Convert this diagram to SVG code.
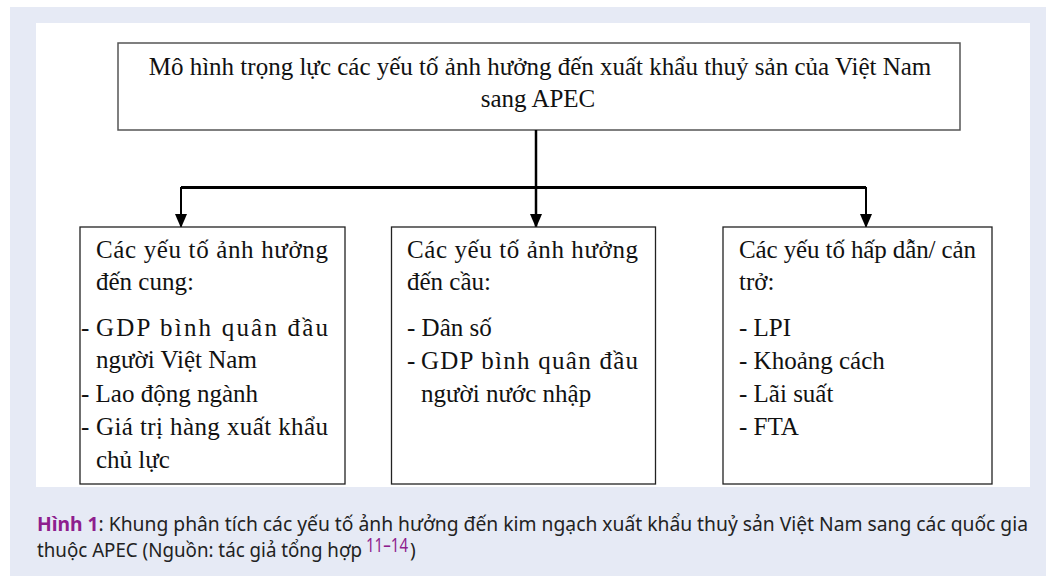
<svg xmlns="http://www.w3.org/2000/svg" width="1058" height="576" viewBox="0 0 1058 576">
<style>
.bx{fill:#fff;stroke:#222;stroke-width:1.3}
.tb{fill:#fff;stroke:#555;stroke-width:1.5}
.t{font-size:25px;fill:#111}
.cap{font-size:19px;fill:#222}
.pur{fill:#8e1e8e}
.ln{stroke:#000;fill:none}
</style>
<defs>
<marker id="ah" markerUnits="userSpaceOnUse" markerWidth="14" markerHeight="12" refX="13" refY="6" orient="auto" viewBox="0 0 14 12">
<path d="M0,0 L14,6 L0,12 Z" fill="#000"/>
</marker>
</defs>
<rect x="10" y="7" width="1036" height="569" fill="#e6eaf5"/>
<rect x="36" y="23" width="994" height="464" fill="#fff"/>

<g id="top" font-family="'Liberation Serif', 'Times New Roman', Tinos, serif">
<rect class="tb" x="118" y="43" width="842" height="87"/>
<text class="t" x="540" y="75" text-anchor="middle">Mô hình trọng lực các yếu tố ảnh hưởng đến xuất khẩu thuỷ sản của Việt Nam</text>
<text class="t" x="538" y="107" text-anchor="middle">sang APEC</text>
</g>

<g id="connectors">
<line class="ln" x1="536" y1="130" x2="536" y2="187" stroke-width="2.5"/>
<line class="ln" x1="181" y1="187.5" x2="866" y2="187.5" stroke-width="3.2"/>
<line class="ln" x1="181" y1="187" x2="181" y2="227" stroke-width="2" marker-end="url(#ah)"/>
<line class="ln" x1="536" y1="187" x2="536" y2="227" stroke-width="2.5" marker-end="url(#ah)"/>
<line class="ln" x1="866" y1="187" x2="866" y2="227" stroke-width="2" marker-end="url(#ah)"/>
</g>

<g id="supply" font-family="'Liberation Serif', 'Times New Roman', Tinos, serif">
<rect class="bx" x="80" y="227" width="265" height="257"/>
<text class="t" x="96" y="258" textLength="232" lengthAdjust="spacing">Các yếu tố ảnh hưởng</text>
<text class="t" x="96" y="290">đến cung:</text>
<text class="t" x="81" y="336">-</text>
<text class="t" x="96" y="336" textLength="232" lengthAdjust="spacing">GDP bình quân đầu</text>
<text class="t" x="96" y="368">người Việt Nam</text>
<text class="t" x="81" y="402">- Lao động ngành</text>
<text class="t" x="81" y="435">-</text>
<text class="t" x="96" y="435" textLength="232" lengthAdjust="spacing">Giá trị hàng xuất khẩu</text>
<text class="t" x="96" y="468">chủ lực</text>
</g>

<g id="demand" font-family="'Liberation Serif', 'Times New Roman', Tinos, serif">
<rect class="bx" x="391.5" y="227" width="264" height="257"/>
<text class="t" x="407" y="258" textLength="231" lengthAdjust="spacing">Các yếu tố ảnh hưởng</text>
<text class="t" x="407" y="290">đến cầu:</text>
<text class="t" x="407" y="336">- Dân số</text>
<text class="t" x="407" y="369">-</text>
<text class="t" x="421" y="369" textLength="217" lengthAdjust="spacing">GDP bình quân đầu</text>
<text class="t" x="421" y="402">người nước nhập</text>
</g>

<g id="gravity" font-family="'Liberation Serif', 'Times New Roman', Tinos, serif">
<rect class="bx" x="723" y="227" width="269" height="257"/>
<text class="t" x="739" y="258" textLength="237" lengthAdjust="spacing">Các yếu tố hấp dẫn/ cản</text>
<text class="t" x="739" y="290">trở:</text>
<text class="t" x="739" y="336">- LPI</text>
<text class="t" x="739" y="369">- Khoảng cách</text>
<text class="t" x="739" y="402">- Lãi suất</text>
<text class="t" x="739" y="435">- FTA</text>
</g>

<g id="caption" font-family="'Noto Sans', 'Open Sans', sans-serif">
<text class="cap" x="37" y="531" textLength="991" lengthAdjust="spacingAndGlyphs"><tspan class="pur" font-weight="bold">Hình 1</tspan>: Khung phân tích các yếu tố ảnh hưởng đến kim ngạch xuất khẩu thuỷ sản Việt Nam sang các quốc gia</text>
<text class="cap" x="37" y="557" textLength="325" lengthAdjust="spacingAndGlyphs">thuộc APEC (Nguồn: tác giả tổng hợp</text>
<text class="cap pur" x="366" y="552" font-size="14px" textLength="42" lengthAdjust="spacingAndGlyphs">11–14</text>
<text class="cap" x="410" y="557">)</text>
</g>
</svg>
